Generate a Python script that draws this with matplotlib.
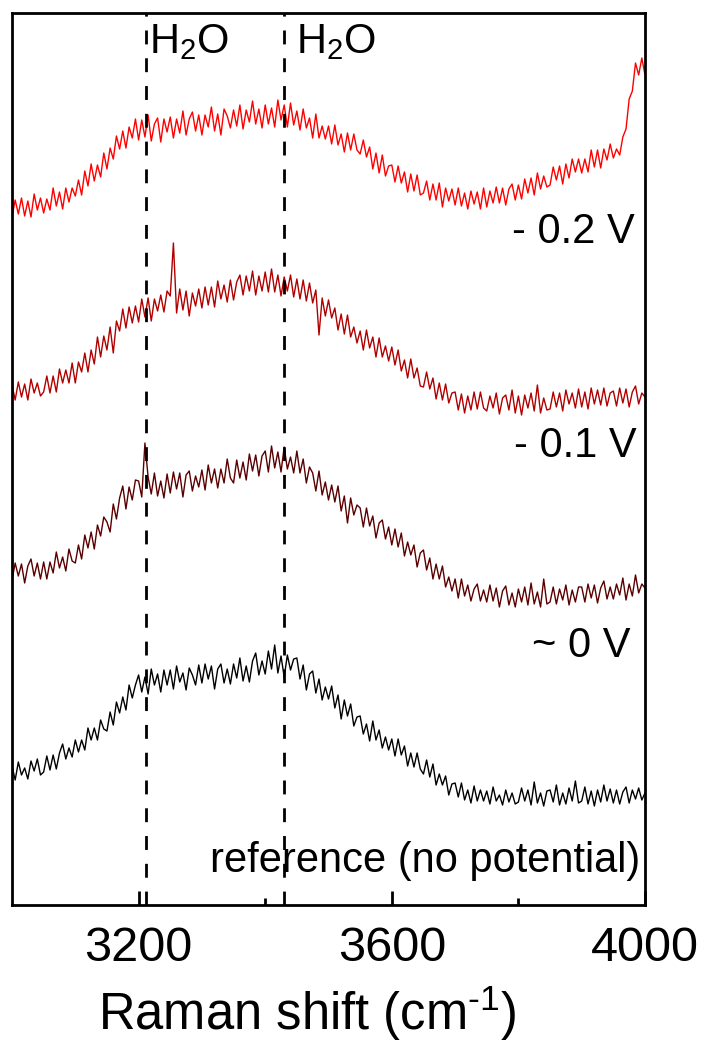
import matplotlib.pyplot as plt
import numpy as np

plt.rcParams['font.family'] = 'Liberation Sans'
plt.rcParams['mathtext.fontset'] = 'custom'
plt.rcParams['mathtext.rm'] = 'Liberation Sans'
plt.rcParams['mathtext.it'] = 'Liberation Sans:italic'
plt.rcParams['mathtext.default'] = 'regular'

# Raman shift grid (cm-1), one point every 5 cm-1
shift = np.arange(3000, 4001, 5)

# intensities (a.u.), each above its own baseline
ref = [39, 25, 43, 30, 37, 26, 44, 34, 46, 30,
       33, 49, 35, 50, 36, 52, 61, 46, 57, 48,
       65, 53, 65, 55, 77, 65, 77, 65, 85, 76,
       74, 93, 80, 103, 92, 108, 95, 120, 107, 120,
       130, 113, 128, 111, 136, 120, 131, 113, 135, 120,
       135, 116, 139, 123, 132, 115, 137, 130, 120, 140,
       122, 141, 126, 139, 116, 136, 141, 122, 136, 121,
       141, 127, 147, 124, 139, 123, 144, 152, 130, 144,
       131, 154, 136, 160, 132, 149, 128, 150, 135, 146,
       147, 126, 140, 115, 131, 134, 112, 126, 105, 118,
       106, 119, 97, 110, 86, 105, 89, 101, 79, 88,
       89, 71, 81, 64, 84, 65, 75, 57, 68, 55,
       66, 49, 66, 50, 59, 39, 52, 38, 52, 36,
       31, 45, 28, 41, 20, 31, 20, 29, 10, 21,
       22, 8, 22, 5, 15, 2, 19, 4, 15, 4,
       14, 1, 18, 4, 10, 0, 15, 3, 12, 1,
       3, 17, 4, 15, 0, 23, 2, 12, -1, 14,
       15, 3, 20, 0, 12, 1, 17, 4, 24, 2,
       4, 18, 1, 14, -1, 15, 3, 20, 4, 16,
       2, 15, 1, 13, 18, 2, 15, 6, 17, 5,
       12]

v_0 = [25, 42, 29, 41, 22, 39, 46, 29, 42, 26,
       43, 26, 43, 32, 53, 37, 48, 34, 56, 44,
       42, 60, 46, 70, 57, 73, 56, 80, 69, 88,
       83, 73, 101, 86, 107, 119, 96, 118, 105, 125,
       124, 108, 162, 128, 111, 132, 109, 124, 107, 131,
       112, 133, 116, 132, 108, 130, 134, 114, 129, 118,
       135, 115, 140, 122, 136, 117, 136, 122, 146, 127,
       122, 145, 127, 143, 125, 151, 134, 150, 129, 149,
       154, 133, 159, 137, 153, 133, 158, 136, 148, 132,
       154, 132, 146, 122, 138, 132, 114, 134, 110, 123,
       105, 120, 103, 119, 94, 109, 82, 107, 90, 100,
       97, 78, 97, 79, 89, 67, 82, 85, 66, 78,
       60, 76, 58, 72, 49, 63, 50, 60, 38, 52,
       55, 35, 47, 26, 41, 26, 39, 18, 28, 14,
       26, 7, 26, 9, 20, 4, 16, 21, 4, 15,
       3, 20, 4, 17, -2, 14, 19, 0, 12, -2,
       16, 3, 18, 0, 22, 1, 13, -2, 26, 1,
       3, 18, 1, 16, 5, 20, 0, 15, 3, 18,
       18, 3, 21, 7, 20, 2, 17, 24, 6, 18,
       6, 21, 10, 27, 5, 21, 9, 30, 12, 21,
       17]

v_m01 = [30, 15, 33, 18, 31, 15, 36, 22, 32, 19,
         23, 39, 22, 39, 23, 46, 32, 45, 32, 52,
         32, 53, 43, 62, 43, 65, 51, 78, 58, 79,
         65, 88, 62, 94, 84, 106, 87, 108, 92, 109,
         93, 116, 98, 117, 94, 116, 104, 120, 103, 124,
         119, 172, 102, 126, 105, 124, 99, 122, 109, 126,
         107, 128, 110, 128, 108, 134, 116, 130, 113, 135,
         115, 133, 140, 120, 139, 124, 144, 120, 139, 124,
         143, 123, 146, 123, 140, 119, 138, 124, 140, 118,
         136, 116, 135, 114, 132, 112, 125, 80, 117, 99,
         115, 97, 107, 85, 101, 81, 100, 78, 88, 72,
         84, 65, 85, 67, 78, 58, 77, 58, 69, 54,
         68, 50, 65, 44, 55, 37, 56, 37, 47, 29,
         28, 43, 26, 37, 16, 32, 15, 31, 12, 22,
         23, 5, 21, 2, 19, 5, 23, 6, 23, 7,
         4, 19, 7, 22, 1, 17, 20, 5, 25, 2,
         19, 0, 20, 7, 22, 4, 30, 2, 17, 5,
         6, 23, 8, 22, 4, 25, 11, 22, 7, 26,
         8, 23, 6, 27, 11, 25, 10, 27, 9, 22,
         24, 9, 27, 12, 26, 8, 23, 29, 11, 22,
         18]

v_m02 = [-2, 15, 1, 17, -1, 14, -2, 21, 5, 17,
         2, 16, 5, 27, 9, 23, 6, 27, 13, 27,
         19, 35, 20, 44, 29, 51, 34, 50, 38, 62,
         46, 67, 56, 79, 66, 84, 67, 88, 77, 96,
         75, 95, 78, 100, 74, 91, 97, 73, 96, 83,
         98, 77, 96, 82, 104, 80, 96, 103, 84, 100,
         80, 100, 88, 108, 84, 101, 80, 106, 99, 87,
         105, 89, 110, 86, 105, 93, 114, 91, 106, 87,
         110, 91, 107, 88, 115, 95, 110, 88, 112, 90,
         104, 85, 106, 87, 97, 77, 101, 77, 89, 76,
         89, 71, 90, 70, 81, 63, 82, 65, 81, 65,
         61, 75, 58, 68, 46, 62, 42, 60, 39, 49,
         50, 33, 49, 32, 43, 23, 41, 24, 40, 20,
         22, 34, 15, 31, 15, 32, 8, 27, 14, 26,
         10, 27, 9, 22, 6, 24, 11, 23, 6, 27,
         8, 24, 12, 28, 12, 27, 10, 26, 31, 15,
         30, 16, 36, 22, 37, 20, 42, 26, 39, 28,
         30, 48, 35, 49, 31, 51, 37, 56, 43, 56,
         42, 56, 43, 65, 48, 65, 47, 66, 55, 71,
         57, 66, 60, 78, 86, 116, 124, 152, 140, 157,
         140]

spectra = [ref, v_0, v_m01, v_m02]
labels = ['reference (no potential)', '~ 0 V', '- 0.1 V', '- 0.2 V']
offsets = [100, 300, 490, 690]
colors = ['black', '#5a0000', '#b00000', '#ff0000']
h2o_lines = [3211, 3430]

fig = plt.figure(figsize=(7.08, 10.43), dpi=100)
ax = fig.add_axes([12 / 708, 1 - 905 / 1043, 633 / 708, 892 / 1043])

for vals, off, c in zip(spectra, offsets, colors):
    ax.plot(shift, np.array(vals) + off, color=c, lw=1.0)

# dashed guides for the two water bands
for xv in h2o_lines:
    ax.axvline(xv, color='black', lw=2, linestyle=(0, (5, 5)), zorder=5)
trans = ax.get_xaxis_transform()
ax.text(3217, 0.955, r'H$_2$O', transform=trans, fontsize=30, va='baseline')
ax.text(3448, 0.955, r'H$_2$O', transform=trans, fontsize=30, va='baseline')

# curve labels, right side
label_y = [0.037, 0.278, 0.502, 0.742]
label_x = [0.992, 0.977, 0.987, 0.984]
for lab, lx, ly in zip(labels, label_x, label_y):
    ax.text(lx, ly, lab, transform=ax.transAxes, ha='right', va='baseline', fontsize=30)

ax.set_xlim(3000, 4000)
ax.set_ylim(0, 892)
ax.set_yticks([])
ax.set_xticks([3200, 3600, 4000])
ax.set_xticks([3400, 3800], minor=True)
ax.tick_params(axis='x', which='major', direction='in', length=10, width=2,
               labelsize=35, pad=15)
ax.tick_params(axis='x', which='minor', direction='in', length=5, width=2)
for sp in ax.spines.values():
    sp.set_linewidth(2)

ax.set_xlabel('Raman shift (cm$^{\u20101}$)', fontsize=36.5)
ax.xaxis.set_label_coords(0.466, -0.140)
ax.xaxis.label.set_va('baseline')

fig.savefig('out.png', dpi=100)
